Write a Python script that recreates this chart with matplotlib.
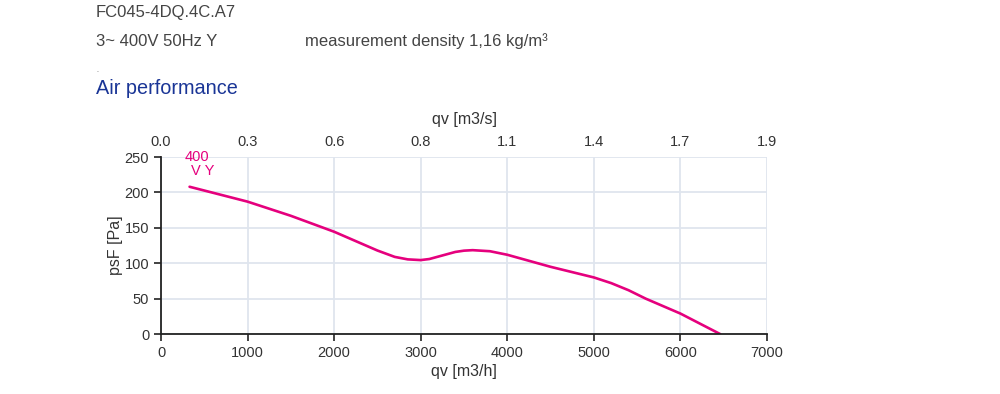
import matplotlib.pyplot as plt

plt.rcParams['font.family'] = ['Liberation Sans', 'DejaVu Sans']

# Kennlinie 400V Y
qv_h = [330, 1000, 1500, 2000, 2500, 2700, 2850, 3000, 3100, 3250, 3400, 3500,
        3600, 3800, 4000, 4500, 5000, 5200, 5400, 5600, 6000, 6460]
psf = [208, 187, 167, 144.5, 118, 109, 105.5, 104.5, 106, 111, 116, 117.8,
       118.5, 117, 112, 95, 80, 72, 62, 50, 29, 0]

x_ticks = [0, 1000, 2000, 3000, 4000, 5000, 6000, 7000]
top_labels = ['0.0', '0.3', '0.6', '0.8', '1.1', '1.4', '1.7', '1.9']
y_ticks = [0, 50, 100, 150, 200, 250]

curve_color = '#e5007d'
text_color = '#333333'
grid_color = '#dfe5ee'

fig = plt.figure(figsize=(10, 3.94), dpi=100)

# Kopfzeilen
fig.text(0.096, 1 - 13 / 394, 'FC045-4DQ.4C.A7', fontsize=12, color='#444444', va='center')
fig.text(0.096, 1 - 41 / 394, '3~ 400V 50Hz Y', fontsize=12, color='#444444', va='center')
fig.text(0.305, 1 - 41 / 394, 'measurement density 1,16 kg/m³', fontsize=12,
         color='#444444', va='center')
fig.text(0.096, 1 - 70 / 394, '.', fontsize=5, color='#555555', va='center')
fig.text(0.096, 1 - 89 / 394, 'Air performance', fontsize=14.3, color='#1a3596', va='center')

ax = fig.add_axes([0.161, 0.152, 0.606, 0.4495])
ax.plot(qv_h, psf, color=curve_color, lw=1.9, solid_capstyle='round')

ax.set_xlim(0, 7000)
ax.set_ylim(0, 250)
ax.set_xticks(x_ticks)
ax.set_yticks(y_ticks)
ax.grid(True, color=grid_color, lw=1.3)
ax.set_axisbelow(True)

for s in ['top', 'right']:
    ax.spines[s].set_visible(False)
for s in ['left', 'bottom']:
    ax.spines[s].set_color('#222222')
    ax.spines[s].set_linewidth(1.3)
ax.tick_params(direction='out', length=5, width=1.2, colors='#222222',
               labelsize=10.5, labelcolor=text_color)

ax.set_xlabel('qv [m3/h]', fontsize=11.5, color=text_color, labelpad=3)
ax.set_ylabel('psF [Pa]', fontsize=11.5, color=text_color, labelpad=1)

# obere Achse m3/s
top = ax.secondary_xaxis('top')
top.set_xticks(x_ticks)
top.set_xticklabels(top_labels)
top.tick_params(length=0, labelsize=10.5, labelcolor=text_color, pad=6)
top.spines['top'].set_visible(False)
top.set_xlabel('qv [m3/s]', fontsize=11.5, color=text_color, labelpad=8)

# Kurvenbeschriftung
ax.text(410, 250, '400', color=curve_color, fontsize=10.5, ha='center', va='center')
ax.text(485, 230, 'V Y', color=curve_color, fontsize=10.5, ha='center', va='center')

fig.savefig('out.png', dpi=100)
